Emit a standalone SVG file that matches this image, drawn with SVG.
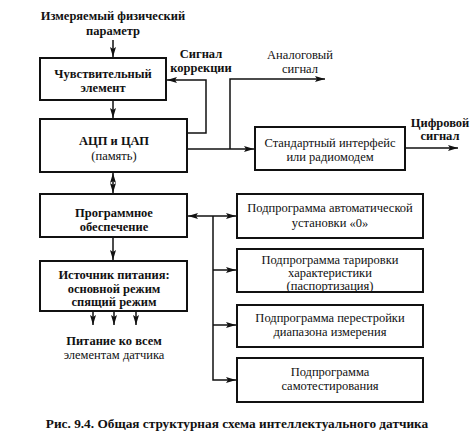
<svg xmlns="http://www.w3.org/2000/svg" width="473" height="442" viewBox="0 0 473 442">
<defs>
<marker id="ah" viewBox="0 0 10 6" refX="10" refY="3" markerWidth="10" markerHeight="6" markerUnits="userSpaceOnUse" orient="auto-start-reverse">
<path d="M0,0 L10,3 L0,6 L2,3 Z" fill="#111"/>
</marker>
<style>
.box{fill:#fff;stroke:#111;stroke-width:2}
.ln{fill:none;stroke:#111;stroke-width:1.5}
text{font-family:"Liberation Serif","DejaVu Serif","Times New Roman",serif;font-size:12.5px;fill:#111;text-anchor:middle}
.b{font-weight:bold}
.cap{font-size:13.3px}
</style>
</defs>
<rect width="473" height="442" fill="#fff"/>
<g id="connectors">
<path class="ln" d="M113,40 V57" marker-end="url(#ah)"/>
<path class="ln" d="M113,100 V118" marker-end="url(#ah)"/>
<path class="ln" d="M113,173 V193" marker-start="url(#ah)" marker-end="url(#ah)"/>
<path class="ln" d="M113,237 V260" marker-end="url(#ah)"/>
<path class="ln" d="M187,133 H206 V80 H167" marker-end="url(#ah)"/>
<path class="ln" d="M187,149 H254" marker-end="url(#ah)"/>
<path class="ln" d="M230,149 V79 H325" marker-end="url(#ah)"/>
<path class="ln" d="M405,148 H458" marker-end="url(#ah)"/>
<path class="ln" d="M188,216 H236" marker-start="url(#ah)" marker-end="url(#ah)"/>
<path class="ln" d="M213,216 V380 H236" marker-end="url(#ah)"/>
<path class="ln" d="M213,270 H236" marker-end="url(#ah)"/>
<path class="ln" d="M213,325 H236" marker-end="url(#ah)"/>
<path class="ln" d="M93,311 V325" marker-end="url(#ah)"/>
<path class="ln" d="M114,311 V325" marker-end="url(#ah)"/>
<path class="ln" d="M136,311 V325" marker-end="url(#ah)"/>
</g>
<g id="input">
<text class="b" x="113" y="20">Измеряемый физический</text>
<text class="b" x="113" y="35">параметр</text>
</g>
<g id="sensor">
<rect class="box" x="40" y="58" width="126" height="42"/>
<text class="b" x="103" y="78">Чувствительный</text>
<text class="b" x="103" y="92">элемент</text>
</g>
<g id="correction">
<text class="b" x="201" y="58">Сигнал</text>
<text class="b" x="201" y="72">коррекции</text>
</g>
<g id="analog">
<text x="300" y="59">Аналоговый</text>
<text x="300" y="73">сигнал</text>
</g>
<g id="adc">
<rect class="box" x="40" y="119" width="147" height="53"/>
<text class="b" x="114" y="145">АЦП и ЦАП</text>
<text x="114" y="160">(память)</text>
</g>
<g id="interface">
<rect class="box" x="255" y="127" width="150" height="43"/>
<text x="330" y="147">Стандартный интерфейс</text>
<text x="330" y="161">или радиомодем</text>
</g>
<g id="digital">
<text class="b" x="440" y="127">Цифровой</text>
<text class="b" x="440" y="140">сигнал</text>
</g>
<g id="software">
<rect class="box" x="40" y="194" width="147" height="43"/>
<text class="b" x="114" y="217">Программное</text>
<text class="b" x="114" y="231">обеспечение</text>
</g>
<g id="power">
<rect class="box" x="40" y="261" width="147" height="50"/>
<text class="b" x="114" y="279">Источник питания:</text>
<text class="b" x="114" y="293">основной режим</text>
<text class="b" x="114" y="306">спящий режим</text>
</g>
<g id="powerout">
<text class="b" x="114" y="345">Питание ко всем</text>
<text x="114" y="359">элементам датчика</text>
</g>
<g id="sub1">
<rect class="box" x="237" y="194" width="186" height="44"/>
<text x="330" y="212">Подпрограмма автоматической</text>
<text x="330" y="227">установки «0»</text>
</g>
<g id="sub2">
<rect class="box" x="237" y="249" width="186" height="43"/>
<text x="330" y="264">Подпрограмма тарировки</text>
<text x="330" y="277">характеристики</text>
<text x="330" y="290">(паспортизация)</text>
</g>
<g id="sub3">
<rect class="box" x="237" y="305" width="186" height="42"/>
<text x="330" y="322">Подпрограмма перестройки</text>
<text x="330" y="336">диапазона измерения</text>
</g>
<g id="sub4">
<rect class="box" x="237" y="358" width="186" height="44"/>
<text x="330" y="376">Подпрограмма</text>
<text x="330" y="390">самотестирования</text>
</g>
<g id="caption">
<text class="b cap" x="237" y="428">Рис. 9.4. Общая структурная схема интеллектуального датчика</text>
</g>
</svg>
